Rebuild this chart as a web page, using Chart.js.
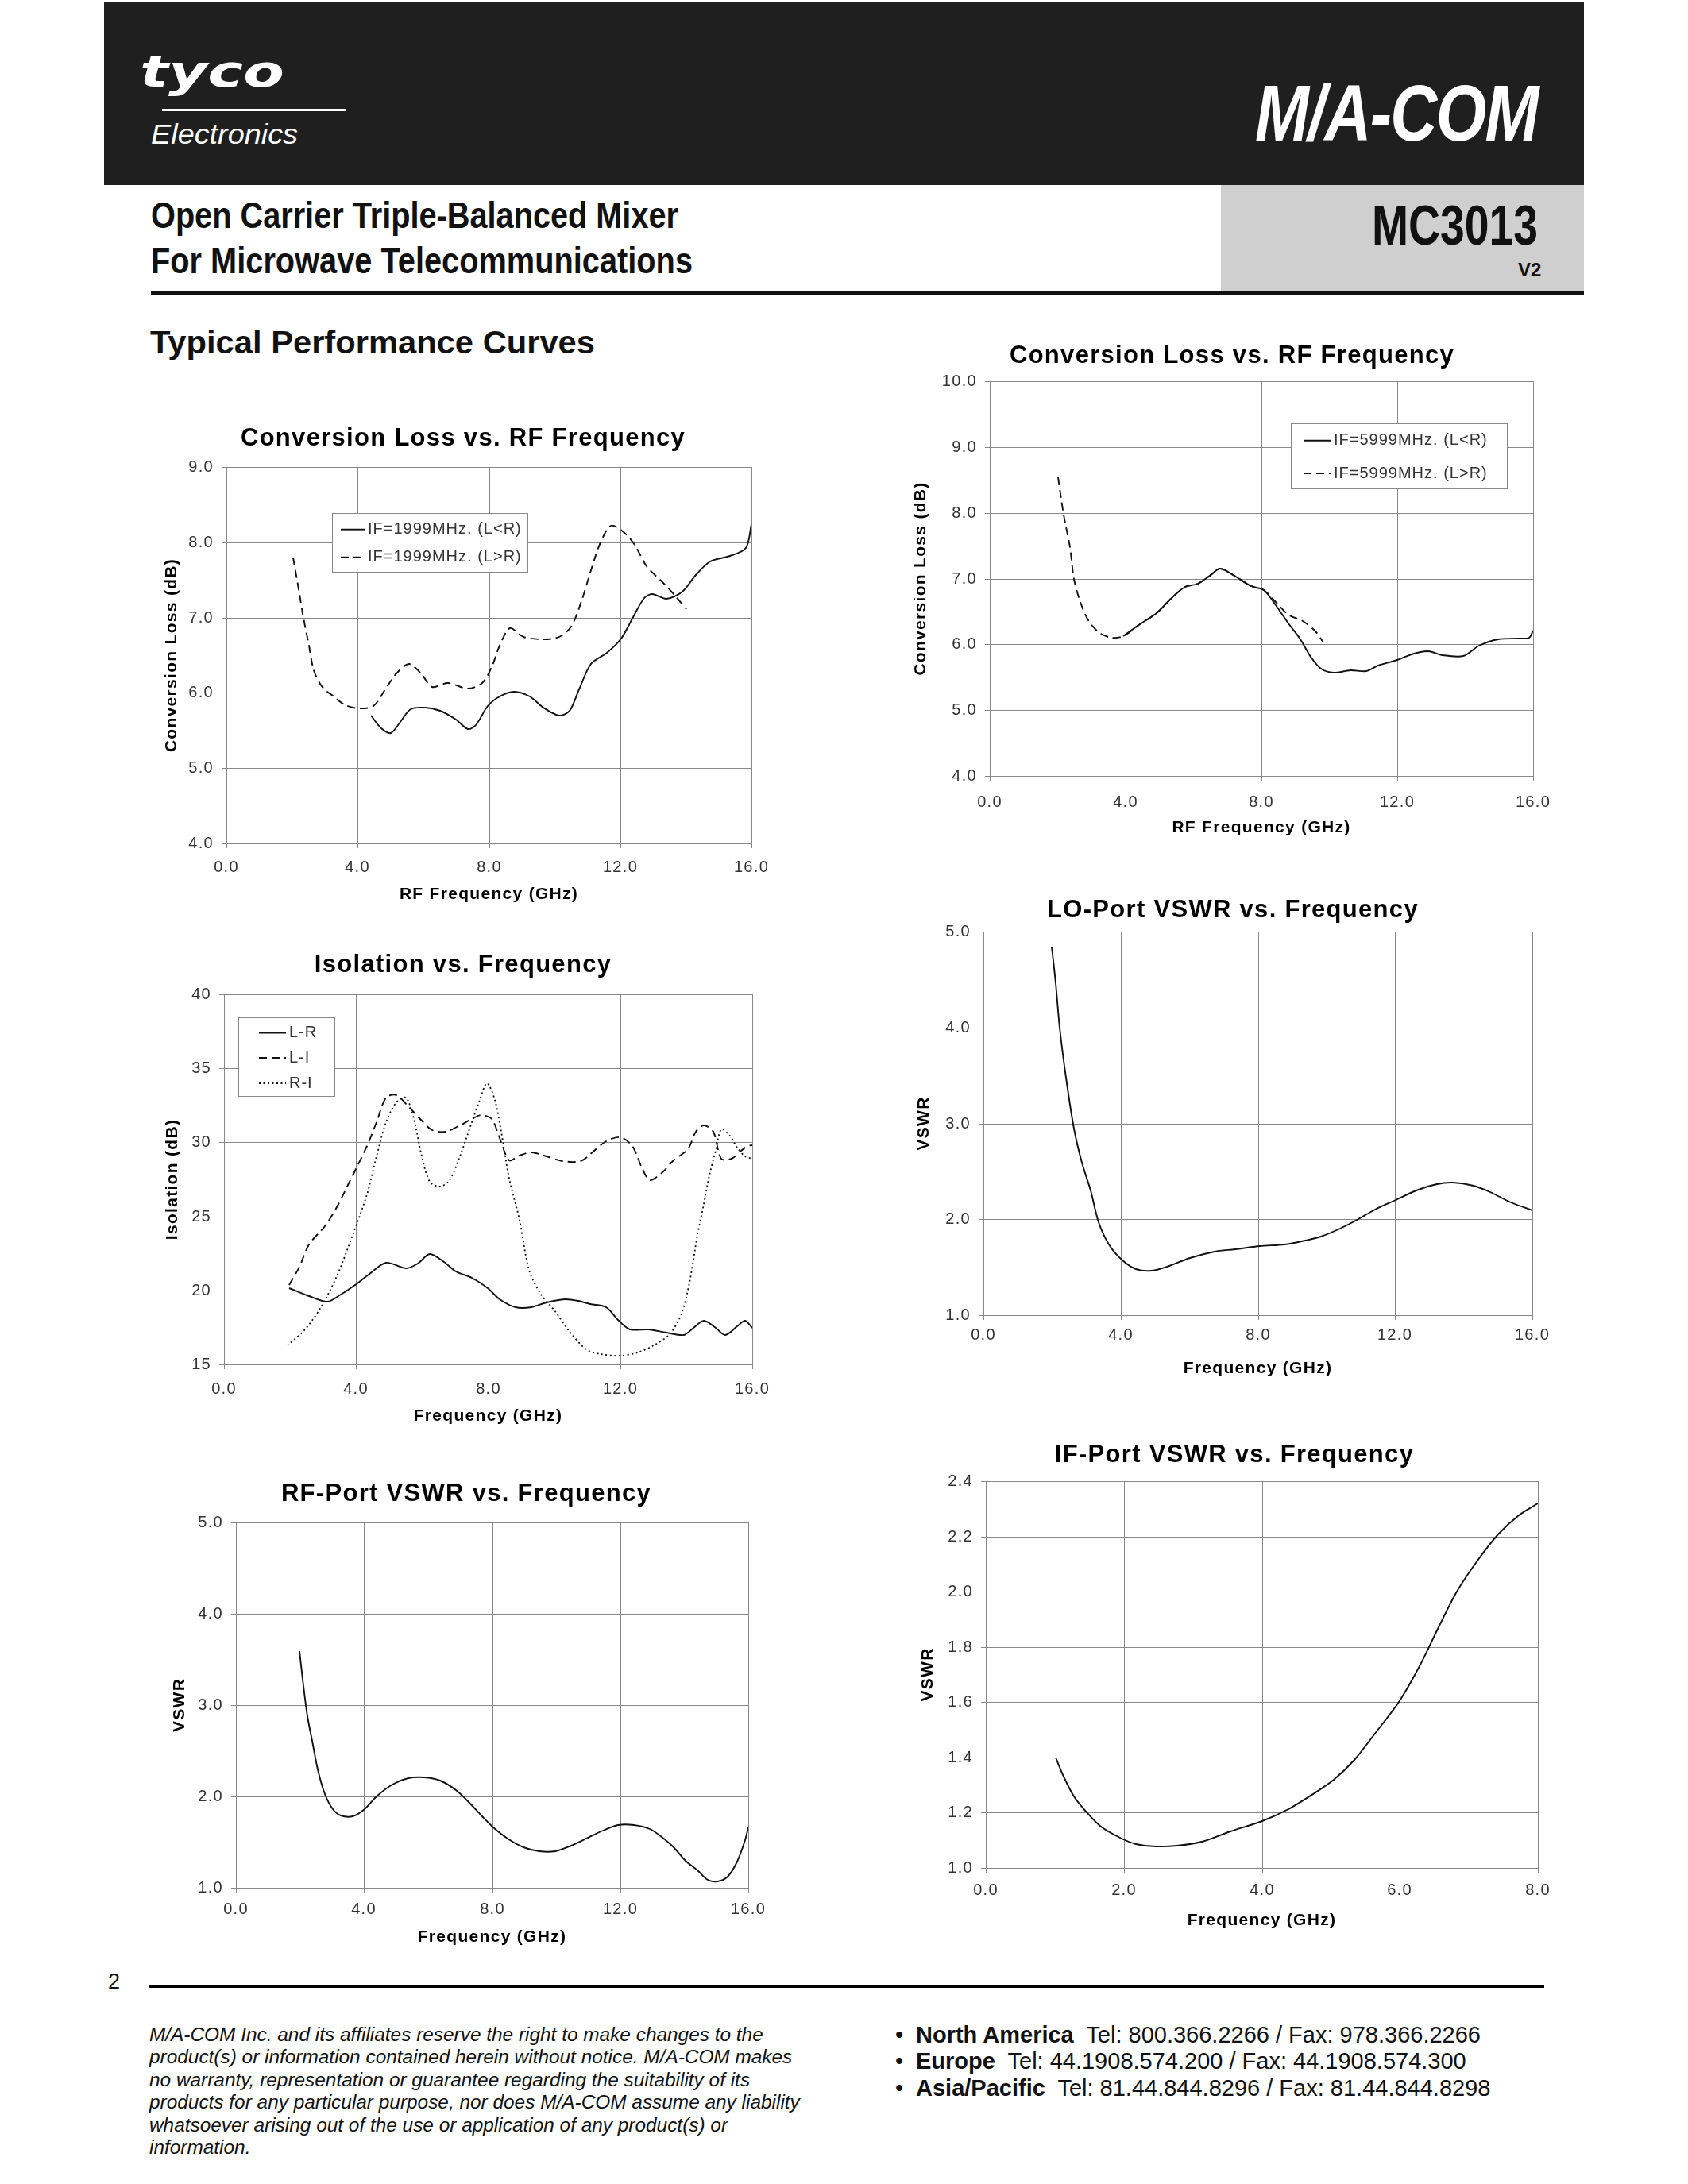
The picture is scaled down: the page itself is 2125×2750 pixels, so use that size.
<!DOCTYPE html>
<html><head><meta charset="utf-8">
<script src="https://cdn.jsdelivr.net/npm/chart.js@4.4.1/dist/chart.umd.min.js"></script>
<style>
html,body{margin:0;padding:0;background:#fff;}
body{width:2125px;height:2750px;position:relative;overflow:hidden;font-family:"Liberation Sans",Arial,sans-serif;color:#111;}
.abs{position:absolute;white-space:nowrap;line-height:1;}
.fit{display:inline-block;transform-origin:0 0;}
canvas{position:absolute;}
</style></head><body>
<!-- header -->
<div class="abs" style="left:131px;top:3px;width:1863px;height:230px;background:#1f1f1f;"></div>
<div class="abs fit" id="tyco" style="left:176px;top:62px;font-family:'DejaVu Sans';font-weight:bold;font-style:italic;font-size:56px;color:#fff;">tyco</div>
<div class="abs" style="left:204px;top:137px;width:231px;height:3px;background:#fff;"></div>
<div class="abs fit" id="elec" style="left:190px;top:151px;font-style:italic;font-size:35px;color:#fff;">Electronics</div>
<div class="abs fit" id="macom" style="left:1580px;top:92px;font-weight:bold;font-style:italic;font-size:100px;color:#fff;letter-spacing:-2px;">M/A-COM</div>
<div class="abs" style="left:1537px;top:233px;width:457px;height:134px;background:#cfcfcf;"></div>
<div class="abs fit" id="t1" style="left:190px;top:247px;font-weight:bold;font-size:47px;">Open Carrier Triple-Balanced Mixer</div>
<div class="abs fit" id="t2" style="left:190px;top:304px;font-weight:bold;font-size:47px;">For Microwave Telecommunications</div>
<div class="abs fit" id="mc" style="left:1727px;top:249px;font-weight:bold;font-size:70px;">MC3013</div>
<div class="abs fit" id="v2" style="left:1911px;top:328px;font-weight:bold;font-size:24px;">V2</div>
<div class="abs" style="left:190px;top:367px;width:1804px;height:4px;background:#111;"></div>
<div class="abs fit" id="tpc" style="left:189px;top:411px;font-weight:bold;font-size:41px;">Typical Performance Curves</div>
<!-- footer -->
<div class="abs" style="left:136px;top:2482px;font-size:27px;">2</div>
<div class="abs" style="left:188px;top:2499px;width:1756px;height:4px;background:#000;"></div>
<div class="abs" id="disc" style="left:188px;top:2548px;font-style:italic;font-size:24.4px;line-height:28.4px;">M/A-COM Inc. and its affiliates reserve the right to make changes to the<br>product(s) or information contained herein without notice. M/A-COM makes<br>no warranty, representation or guarantee regarding the suitability of its<br>products for any particular purpose, nor does M/A-COM assume any liability<br>whatsoever arising out of the use or application of any product(s) or<br>information.</div>
<div class="abs" style="left:1127px;top:2546px;font-size:29px;line-height:33.3px;">•<br>•<br>•</div>
<div class="abs" id="cont" style="left:1153px;top:2546px;font-size:29px;line-height:33.3px;"><b>North America</b>&nbsp; Tel: 800.366.2266 / Fax: 978.366.2266<br><b>Europe</b>&nbsp; Tel: 44.1908.574.200 / Fax: 44.1908.574.300<br><b>Asia/Pacific</b>&nbsp; Tel: 81.44.844.8296 / Fax: 81.44.844.8298</div>

<script>
// ---------------- DATA ----------------
// Chart 1: Conversion Loss, IF=1999MHz
const CL1_X_TICKS = [0, 4, 8, 12, 16];
const CL1_Y_TICKS = [4, 5, 6, 7, 8, 9];
const CL1_LR_F = [4.41,4.71,5.01,5.31,5.62,6.04,6.52,7.0,7.37,7.61,7.97,8.33,8.76,9.24,9.66,10.14,10.45,10.75,11.11,11.59,12.02,12.38,12.74,12.98,13.41,13.89,14.31,14.73,15.34,15.82,16.0];
const CL1_LR_V = [5.70,5.53,5.47,5.61,5.78,5.80,5.76,5.65,5.52,5.57,5.82,5.95,6.02,5.95,5.80,5.70,5.76,6.05,6.38,6.53,6.72,6.99,7.26,7.31,7.25,7.34,7.57,7.74,7.82,7.92,8.24];
const CL1_GR_F = [2.03,2.20,2.36,2.51,2.66,2.90,3.26,3.62,4.05,4.47,4.83,5.19,5.56,5.92,6.28,6.76,7.37,7.79,8.09,8.33,8.64,9.06,9.66,10.14,10.51,10.81,11.11,11.41,11.71,12.08,12.44,12.80,13.29,13.65,14.01];
const CL1_GR_V = [7.80,7.38,7.00,6.63,6.30,6.09,5.95,5.84,5.79,5.82,6.05,6.26,6.38,6.26,6.08,6.13,6.06,6.13,6.34,6.63,6.86,6.74,6.71,6.74,6.88,7.22,7.63,8.00,8.22,8.15,7.97,7.68,7.47,7.30,7.11];

// Chart 2: Conversion Loss, IF=5999MHz
const CL2_X_TICKS = [0, 4, 8, 12, 16];
const CL2_Y_TICKS = [4, 5, 6, 7, 8, 9, 10];
const CL2_LR_F = [3.94,4.42,4.91,5.39,5.76,6.12,6.48,6.79,7.21,7.70,8.06,8.42,8.79,9.15,9.45,9.76,10.12,10.61,11.09,11.45,12.0,12.48,12.91,13.33,13.94,14.42,14.97,15.58,15.88,16.0];
const CL2_LR_V = [6.13,6.30,6.47,6.72,6.87,6.92,7.04,7.15,7.04,6.89,6.82,6.59,6.32,6.08,5.81,5.63,5.57,5.61,5.59,5.68,5.76,5.86,5.89,5.83,5.82,5.98,6.08,6.09,6.10,6.21];
const CL2_GR_F = [2.02,2.18,2.36,2.48,2.67,2.91,3.21,3.58,3.94,4.42,4.91,5.39,5.76,6.12,6.48,6.79,7.21,7.70,8.06,8.42,8.79,9.21,9.58,9.82];
const CL2_GR_V = [8.54,7.97,7.48,6.99,6.64,6.37,6.18,6.10,6.13,6.30,6.47,6.72,6.87,6.92,7.04,7.15,7.04,6.89,6.82,6.64,6.45,6.35,6.20,6.03];

// Chart 3: Isolation
const ISO_X_TICKS = [0, 4, 8, 12, 16];
const ISO_Y_TICKS = [15, 20, 25, 30, 35, 40];
const ISO_LR_F = [1.98,2.58,3.12,3.54,3.96,4.38,4.92,5.52,5.88,6.24,6.66,7.02,7.5,7.98,8.34,8.82,9.30,9.78,10.32,10.74,11.10,11.58,11.94,12.30,12.85,13.39,13.93,14.23,14.53,14.89,15.19,15.55,15.79,16.0];
const ISO_LR_V = [20.17,19.6,19.24,19.7,20.34,21.08,21.89,21.5,21.82,22.46,21.93,21.29,20.87,20.13,19.39,18.86,18.86,19.17,19.39,19.28,19.07,18.86,18.01,17.37,17.37,17.12,16.99,17.48,17.97,17.48,16.99,17.58,17.97,17.48];
const ISO_LI_F = [1.98,2.28,2.58,3.06,3.42,3.78,4.32,4.62,4.92,5.22,5.58,5.94,6.30,6.72,7.14,7.50,7.80,8.10,8.34,8.64,8.94,9.30,9.78,10.26,10.80,11.22,11.58,12.0,12.36,12.66,12.90,13.27,13.63,14.05,14.29,14.53,14.83,15.07,15.37,15.67,15.85,16.0];
const ISO_LI_V = [20.34,21.61,23.09,24.36,25.64,27.22,29.77,31.36,33.05,33.16,32.42,31.57,30.83,30.72,31.14,31.57,31.82,31.57,30.30,28.81,29.13,29.34,29.03,28.71,28.71,29.45,30.08,30.34,29.77,28.28,27.44,27.97,28.81,29.56,30.72,31.14,30.72,28.92,28.92,29.45,29.77,29.83];
const ISO_RI_F = [1.92,2.46,2.94,3.42,3.90,4.32,4.62,4.92,5.22,5.52,5.76,6.00,6.24,6.54,6.84,7.14,7.50,7.74,7.96,8.20,8.40,8.64,8.94,9.24,9.60,10.02,10.50,10.98,11.40,12.0,12.54,13.02,13.50,13.86,14.10,14.34,14.53,14.71,14.89,15.07,15.31,15.55,15.79,16.0];
const ISO_RI_V = [16.31,17.37,18.86,20.97,23.73,26.48,29.03,31.36,32.73,33.01,31.57,29.03,27.33,27.01,27.44,29.03,31.36,32.84,34.0,32.84,30.72,27.54,24.79,21.40,19.70,18.64,17.16,16.0,15.68,15.57,15.78,16.31,17.05,18.43,20.55,23.73,25.85,27.75,29.45,30.89,30.51,29.66,29.03,28.92];

// Chart 4: LO-Port VSWR
const LO_X_TICKS = [0, 4, 8, 12, 16];
const LO_Y_TICKS = [1, 2, 3, 4, 5];
const LO_F = [1.98,2.10,2.22,2.40,2.64,2.88,3.12,3.36,3.66,4.02,4.44,4.92,5.41,6.01,6.73,7.33,8.05,8.77,9.37,9.85,10.45,10.93,11.41,12.01,12.61,13.21,13.69,14.29,14.77,15.38,16.0];
const LO_V = [4.84,4.46,4.00,3.48,2.95,2.59,2.30,1.97,1.74,1.58,1.48,1.46,1.51,1.60,1.66,1.69,1.72,1.74,1.78,1.82,1.91,2.00,2.10,2.20,2.30,2.37,2.38,2.35,2.28,2.18,2.09];

// Chart 5: RF-Port VSWR
const RF_X_TICKS = [0, 4, 8, 12, 16];
const RF_Y_TICKS = [1, 2, 3, 4, 5];
const RF_F = [1.98,2.10,2.23,2.39,2.56,2.78,3.03,3.28,3.65,4.02,4.39,4.89,5.38,5.88,6.37,6.87,7.24,7.67,8.04,8.48,8.97,9.47,9.96,10.46,10.95,11.45,11.94,12.44,12.93,13.30,13.68,14.05,14.42,14.73,15.04,15.35,15.66,15.90,16.0];
const RF_V = [3.59,3.21,2.88,2.61,2.30,2.03,1.86,1.79,1.78,1.86,2.00,2.13,2.20,2.21,2.17,2.07,1.95,1.79,1.66,1.54,1.44,1.40,1.40,1.46,1.54,1.63,1.69,1.69,1.64,1.56,1.44,1.30,1.19,1.09,1.07,1.12,1.29,1.52,1.66];

// Chart 6: IF-Port VSWR
const IF_X_TICKS = [0, 2, 4, 6, 8];
const IF_Y_TICKS = [1.0, 1.2, 1.4, 1.6, 1.8, 2.0, 2.2, 2.4];
const IF_F = [1.01,1.13,1.28,1.46,1.67,1.94,2.18,2.47,2.77,3.13,3.55,4.0,4.38,4.74,5.04,5.34,5.63,5.99,6.29,6.56,6.83,7.12,7.42,7.72,8.0];
const IF_V = [1.40,1.33,1.26,1.20,1.15,1.11,1.085,1.079,1.081,1.096,1.131,1.169,1.214,1.267,1.319,1.39,1.484,1.601,1.73,1.871,2.0,2.112,2.206,2.277,2.32];

// ---------------- HELPERS ----------------
const FONT = "'Liberation Sans', Arial, sans-serif";
const GRID = '#888888';
const SOLID = [], DASH = [10, 6], DOT = [2, 3.5];
const pts = (xs, ys) => xs.map((x, i) => ({x: x, y: ys[i]}));
const f1 = v => Number(v).toFixed(1);
const f0 = v => String(Math.round(v));

const plotBg = {
  id: 'plotBg',
  beforeDraw(chart) {
    const {ctx, chartArea: a} = chart;
    try { ctx.letterSpacing = '1.3px'; } catch (e) {}
    ctx.save(); ctx.fillStyle = '#fff';
    ctx.fillRect(a.left, a.top, a.right - a.left, a.bottom - a.top);
    ctx.restore();
  }
};
const boxLegend = {
  id: 'boxLegend',
  afterDraw(chart, args, o) {
    if (!o || !o.show) return;
    const {ctx, chartArea: a} = chart;
    const x = a.left + o.x, y = a.top + o.y;
    ctx.save();
    ctx.fillStyle = '#fff'; ctx.fillRect(x, y, o.w, o.h);
    ctx.strokeStyle = '#888'; ctx.lineWidth = 1;
    ctx.strokeRect(Math.round(x) + 0.5, Math.round(y) + 0.5, o.w, o.h);
    chart.data.datasets.forEach((ds, i) => {
      const ry = y + o.rows[i];
      ctx.beginPath();
      ctx.setLineDash(ds.borderDash || []);
      ctx.strokeStyle = ds.borderColor; ctx.lineWidth = ds.borderWidth;
      ctx.moveTo(x + o.s0, ry); ctx.lineTo(x + o.s1, ry); ctx.stroke();
      ctx.setLineDash([]);
      ctx.fillStyle = '#333'; ctx.font = '20px ' + FONT;
      try { ctx.letterSpacing = '1px'; } catch (e) {}
      ctx.textBaseline = 'middle'; ctx.textAlign = 'left';
      ctx.fillText(ds.label, x + o.textX, ry);
    });
    ctx.restore();
  }
};

function makeChart(g, spec) {
  const TFS = 31, TPT = 8, AFS = 21, TL = 6, TKFS = 20;
  const canvasTop = Math.round(g.titleCY - TFS / 2 - TPT);
  const titlePB = g.plotT - canvasTop - TPT - TFS;
  const canvasLeft = Math.round(Math.min(2 * g.titleCX - g.plotR - 22, g.yTitleCX - AFS / 2));
  const yTitlePad = g.yTitleCX - AFS / 2 - canvasLeft;
  const YW = g.plotL - canvasLeft;
  const canvasRight = Math.round(2 * g.titleCX - canvasLeft);
  const R = canvasRight - g.plotR;
  const XH = Math.round(g.xTitleCY - g.plotB + AFS / 2);
  const canvasBottom = g.plotB + XH;
  const xTickPad = g.xLabelCY - g.plotB - TL - TKFS / 2;

  const cv = document.createElement('canvas');
  cv.width = canvasRight - canvasLeft;
  cv.height = canvasBottom - canvasTop;
  cv.style.left = canvasLeft + 'px';
  cv.style.top = canvasTop + 'px';
  document.body.appendChild(cv);

  const gridOpts = {color: GRID, lineWidth: 1, tickLength: TL, drawTicks: true, tickColor: GRID};
  new Chart(cv, {
    type: 'line',
    data: {datasets: spec.datasets.map(d => ({
      label: d.label, data: d.data, borderColor: '#111', borderWidth: d.w || 1.9,
      borderDash: d.dash, pointRadius: 0, fill: false, tension: 0.3
    }))},
    options: {
      responsive: false, animation: false, devicePixelRatio: 1,
      layout: {padding: 0},
      plugins: {
        legend: {display: false}, tooltip: {enabled: false},
        title: {display: true, text: spec.title, color: '#000',
          font: {family: FONT, size: TFS, weight: 'bold', lineHeight: 1},
          padding: {top: TPT, bottom: titlePB}},
        boxLegend: spec.legend || {show: false}
      },
      scales: {
        x: {
          type: 'linear', position: 'bottom', min: spec.xTicks[0], max: spec.xTicks[spec.xTicks.length - 1],
          alignToPixels: true,
          afterBuildTicks: s => { s.ticks = spec.xTicks.map(v => ({value: v})); },
          afterFit: s => { s.height = XH; s.paddingLeft = 0; s.paddingRight = R; },
          grid: gridOpts, border: {display: true, color: GRID, width: 1},
          ticks: {color: '#333', padding: xTickPad, maxRotation: 0, autoSkip: false,
            font: {family: FONT, size: TKFS, lineHeight: 1}, callback: v => spec.xFmt(v)},
          title: {display: true, text: spec.xTitle, color: '#000', padding: {top: 0, bottom: 0},
            font: {family: FONT, size: AFS, weight: 'bold', lineHeight: 1}}
        },
        y: {
          type: 'linear', position: 'left', min: spec.yTicks[0], max: spec.yTicks[spec.yTicks.length - 1],
          alignToPixels: true,
          afterBuildTicks: s => { s.ticks = spec.yTicks.map(v => ({value: v})); },
          afterFit: s => { s.width = YW; s.paddingTop = 0; s.paddingBottom = 0; },
          grid: gridOpts, border: {display: true, color: GRID, width: 1},
          ticks: {color: '#333', padding: 10, autoSkip: false,
            font: {family: FONT, size: TKFS, lineHeight: 1}, callback: v => spec.yFmt(v)},
          title: {display: true, text: spec.yTitle, color: '#000', padding: {top: yTitlePad, bottom: 0},
            font: {family: FONT, size: AFS, weight: 'bold', lineHeight: 1}}
        }
      }
    },
    plugins: [plotBg, boxLegend]
  });
}

// ---------------- CHARTS ----------------
makeChart({plotL: 285, plotT: 588, plotR: 946, plotB: 1062, titleCX: 583, titleCY: 552, yTitleCX: 216, xLabelCY: 1092, xTitleCY: 1126}, {
  title: 'Conversion Loss vs. RF Frequency', xTitle: 'RF Frequency (GHz)', yTitle: 'Conversion Loss (dB)',
  xTicks: CL1_X_TICKS, yTicks: CL1_Y_TICKS, xFmt: f1, yFmt: f1,
  datasets: [
    {label: 'IF=1999MHz. (L<R)', data: pts(CL1_LR_F, CL1_LR_V), dash: SOLID},
    {label: 'IF=1999MHz. (L>R)', data: pts(CL1_GR_F, CL1_GR_V), dash: DASH}
  ],
  legend: {show: true, x: 133, y: 58, w: 246, h: 74, rows: [20.7, 55.7], s0: 11, s1: 42, textX: 45}
});

makeChart({plotL: 1246, plotT: 480, plotR: 1930, plotB: 977, titleCX: 1551, titleCY: 448, yTitleCX: 1159, xLabelCY: 1010, xTitleCY: 1042}, {
  title: 'Conversion Loss vs. RF Frequency', xTitle: 'RF Frequency (GHz)', yTitle: 'Conversion Loss (dB)',
  xTicks: CL2_X_TICKS, yTicks: CL2_Y_TICKS, xFmt: f1, yFmt: f1,
  datasets: [
    {label: 'IF=5999MHz. (L<R)', data: pts(CL2_LR_F, CL2_LR_V), dash: SOLID},
    {label: 'IF=5999MHz. (L>R)', data: pts(CL2_GR_F, CL2_GR_V), dash: DASH}
  ],
  legend: {show: true, x: 379, y: 53, w: 272, h: 82, rows: [21.7, 63], s0: 16, s1: 51, textX: 54}
});

makeChart({plotL: 282, plotT: 1252, plotR: 947, plotB: 1718, titleCX: 583, titleCY: 1215, yTitleCX: 217, xLabelCY: 1749, xTitleCY: 1783}, {
  title: 'Isolation vs. Frequency', xTitle: 'Frequency (GHz)', yTitle: 'Isolation (dB)',
  xTicks: ISO_X_TICKS, yTicks: ISO_Y_TICKS, xFmt: f1, yFmt: f0,
  datasets: [
    {label: 'L-R', data: pts(ISO_LR_F, ISO_LR_V), dash: SOLID},
    {label: 'L-I', data: pts(ISO_LI_F, ISO_LI_V), dash: DASH},
    {label: 'R-I', data: pts(ISO_RI_F, ISO_RI_V), dash: DOT, w: 1.8}
  ],
  legend: {show: true, x: 18, y: 29, w: 121, h: 99, rows: [19.5, 51, 83], s0: 26, s1: 60, textX: 64}
});

makeChart({plotL: 1238, plotT: 1173, plotR: 1929, plotB: 1656, titleCX: 1552, titleCY: 1146, yTitleCX: 1163, xLabelCY: 1681, xTitleCY: 1723}, {
  title: 'LO-Port VSWR vs. Frequency', xTitle: 'Frequency (GHz)', yTitle: 'VSWR',
  xTicks: LO_X_TICKS, yTicks: LO_Y_TICKS, xFmt: f1, yFmt: f1,
  datasets: [{label: 'LO VSWR', data: pts(LO_F, LO_V), dash: SOLID}]
});

makeChart({plotL: 297, plotT: 1917, plotR: 942, plotB: 2377, titleCX: 587, titleCY: 1881, yTitleCX: 226, xLabelCY: 2404, xTitleCY: 2439}, {
  title: 'RF-Port VSWR vs. Frequency', xTitle: 'Frequency (GHz)', yTitle: 'VSWR',
  xTicks: RF_X_TICKS, yTicks: RF_Y_TICKS, xFmt: f1, yFmt: f1,
  datasets: [{label: 'RF VSWR', data: pts(RF_F, RF_V), dash: SOLID}]
});

makeChart({plotL: 1241, plotT: 1865, plotR: 1936, plotB: 2352, titleCX: 1554, titleCY: 1832, yTitleCX: 1168, xLabelCY: 2380, xTitleCY: 2418}, {
  title: 'IF-Port VSWR vs. Frequency', xTitle: 'Frequency (GHz)', yTitle: 'VSWR',
  xTicks: IF_X_TICKS, yTicks: IF_Y_TICKS, xFmt: f1, yFmt: f1,
  datasets: [{label: 'IF VSWR', data: pts(IF_F, IF_V), dash: SOLID}]
});

// ---------------- header text fitting ----------------
function fitW(id, w) {
  const el = document.getElementById(id);
  const nat = el.getBoundingClientRect().width;
  if (nat > 0) el.style.transform = 'scaleX(' + (w / nat) + ')';
}
fitW('tyco', 182); fitW('elec', 185); fitW('macom', 356);
fitW('t1', 664); fitW('t2', 682); fitW('mc', 209); fitW('tpc', 560);
</script>
</body></html>
